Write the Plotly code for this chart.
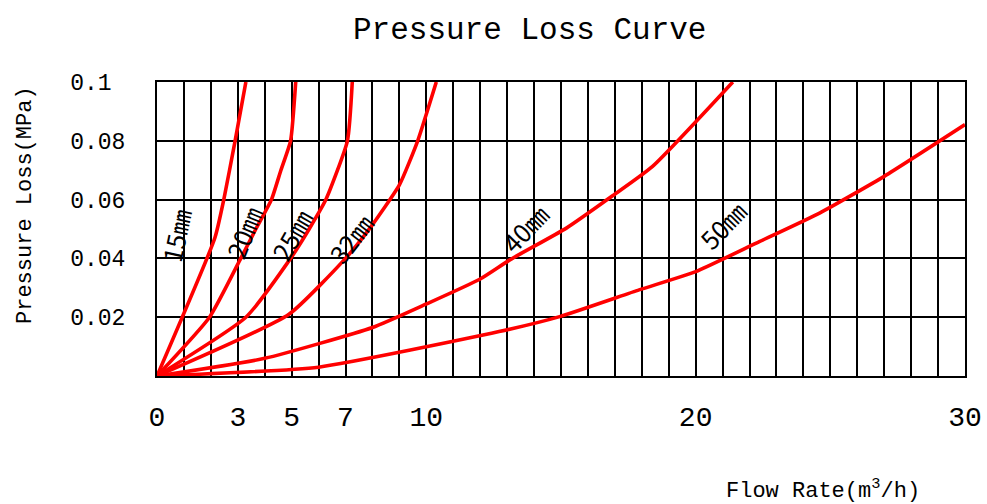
import plotly.graph_objects as go

# Axis ticks
x_grid = list(range(0, 31))
x_labelled = [0, 3, 5, 7, 10, 20, 30]
y_ticks = [0, 0.02, 0.04, 0.06, 0.08, 0.1]
y_tick_text = ["", "0.02", "0.04", "0.06", "0.08", "0.1\u00a0"]

# Pressure loss curves per pipe size: flow rate (m3/h) vs loss (MPa)
flow_15 = [0, 2.15, 2.48, 2.9, 3.3]
loss_15 = [0, 0.047, 0.06, 0.08, 0.1]

flow_20 = [0, 1.95, 3.11, 3.67, 4.25, 4.6, 4.96, 5.15]
loss_20 = [0, 0.02, 0.04, 0.05, 0.06, 0.07, 0.08, 0.1]

flow_25 = [0, 3.3, 4.96, 5.65, 6.27, 7.07, 7.25]
loss_25 = [0, 0.02, 0.04, 0.05, 0.06, 0.08, 0.1]

flow_32 = [0, 4.9, 7.0, 7.9, 9.0, 9.68, 10.37]
loss_32 = [0, 0.021, 0.04, 0.0502, 0.065, 0.08, 0.1]

flow_40 = [0, 4.0, 8.0, 10.0, 12.0, 13.1, 15.2, 16.9, 18.4, 21.38]
loss_40 = [0, 0.006, 0.0165, 0.0245, 0.033, 0.0395, 0.0503, 0.0612, 0.0713, 0.1]

flow_50 = [0, 6.0, 12.7, 14.95, 17.9, 20.0, 22.25, 24.6, 27.0, 30.0]
loss_50 = [0, 0.003, 0.0151, 0.0202, 0.0293, 0.0355, 0.0452, 0.0554, 0.0679, 0.0855]

curve_names = ["15㎜", "20㎜", "25㎜", "32㎜", "40㎜", "50㎜"]
curve_flows = [flow_15, flow_20, flow_25, flow_32, flow_40, flow_50]
curve_losses = [loss_15, loss_20, loss_25, loss_32, loss_40, loss_50]

# Where each size label sits (data coords) and its slant
label_x = [0.7, 3.22, 4.98, 7.2, 13.65, 20.99]
label_y = [0.048, 0.049, 0.048, 0.047, 0.0505, 0.0515]
label_angle = [-78, -68, -60, -52, -46, -46]

MONO = "Liberation Mono"
RED = "#ff0000"

# Plot area in pixels
W, H = 987, 504
ML, MR, MT, MB = 157, 22, 82, 128


def px_to_paper_x(px):
    return (px - ML) / (W - ML - MR)


def px_to_paper_y(py):
    return (H - MB - py) / (H - MT - MB)


fig = go.Figure()
for name, fx, ly in zip(curve_names, curve_flows, curve_losses):
    fig.add_trace(go.Scatter(
        x=fx, y=ly, mode="lines", name=name,
        line=dict(color=RED, width=3.6, shape="spline", smoothing=0.5),
        hoverinfo="skip",
    ))

for name, lx, lyy, ang in zip(curve_names, label_x, label_y, label_angle):
    fig.add_annotation(
        x=lx, y=lyy, xref="x", yref="y", text=name, showarrow=False,
        xanchor="center", yanchor="middle",
        textangle=ang, font=dict(family="Noto Sans CJK JP", size=25, color="black"),
    )

fig.add_annotation(
    x=px_to_paper_x(529), y=px_to_paper_y(31), xref="paper", yref="paper",
    text="Pressure Loss Curve", showarrow=False,
    xanchor="center", yanchor="middle",
    font=dict(family=MONO, size=31, color="black"),
)
fig.add_annotation(
    x=px_to_paper_x(25), y=px_to_paper_y(205), xref="paper", yref="paper",
    text="Pressure Loss(MPa)", textangle=-90, showarrow=False,
    xanchor="center", yanchor="middle",
    font=dict(family=MONO, size=22, color="black"),
)
fig.add_annotation(
    x=px_to_paper_x(823), y=px_to_paper_y(489), xref="paper", yref="paper",
    text="Flow Rate(m<sup>3</sup>/h)", showarrow=False,
    xanchor="center", yanchor="middle",
    font=dict(family=MONO, size=22, color="black"),
)

fig.update_layout(
    width=W, height=H,
    margin=dict(l=ML, r=MR, t=MT, b=MB, autoexpand=False),
    paper_bgcolor="white", plot_bgcolor="white",
    showlegend=False,
    xaxis=dict(
        range=[0, 30], tickmode="array", tickvals=x_grid,
        ticktext=[str(v) if v in x_labelled else "" for v in x_grid],
        showgrid=True, gridcolor="black", gridwidth=2,
        showline=True, linecolor="black", linewidth=2, mirror=True,
        zeroline=False, ticks="", ticklabelstandoff=14, automargin=False,
        tickfont=dict(family=MONO, size=28, color="black"),
    ),
    yaxis=dict(
        range=[0, 0.1], tickmode="array", tickvals=y_ticks, ticktext=y_tick_text,
        showgrid=True, gridcolor="black", gridwidth=2,
        showline=True, linecolor="black", linewidth=2, mirror=True,
        zeroline=False, ticks="", ticklabelstandoff=25, automargin=False,
        tickfont=dict(family=MONO, size=23, color="black"),
    ),
)

fig.write_html("out.html")
